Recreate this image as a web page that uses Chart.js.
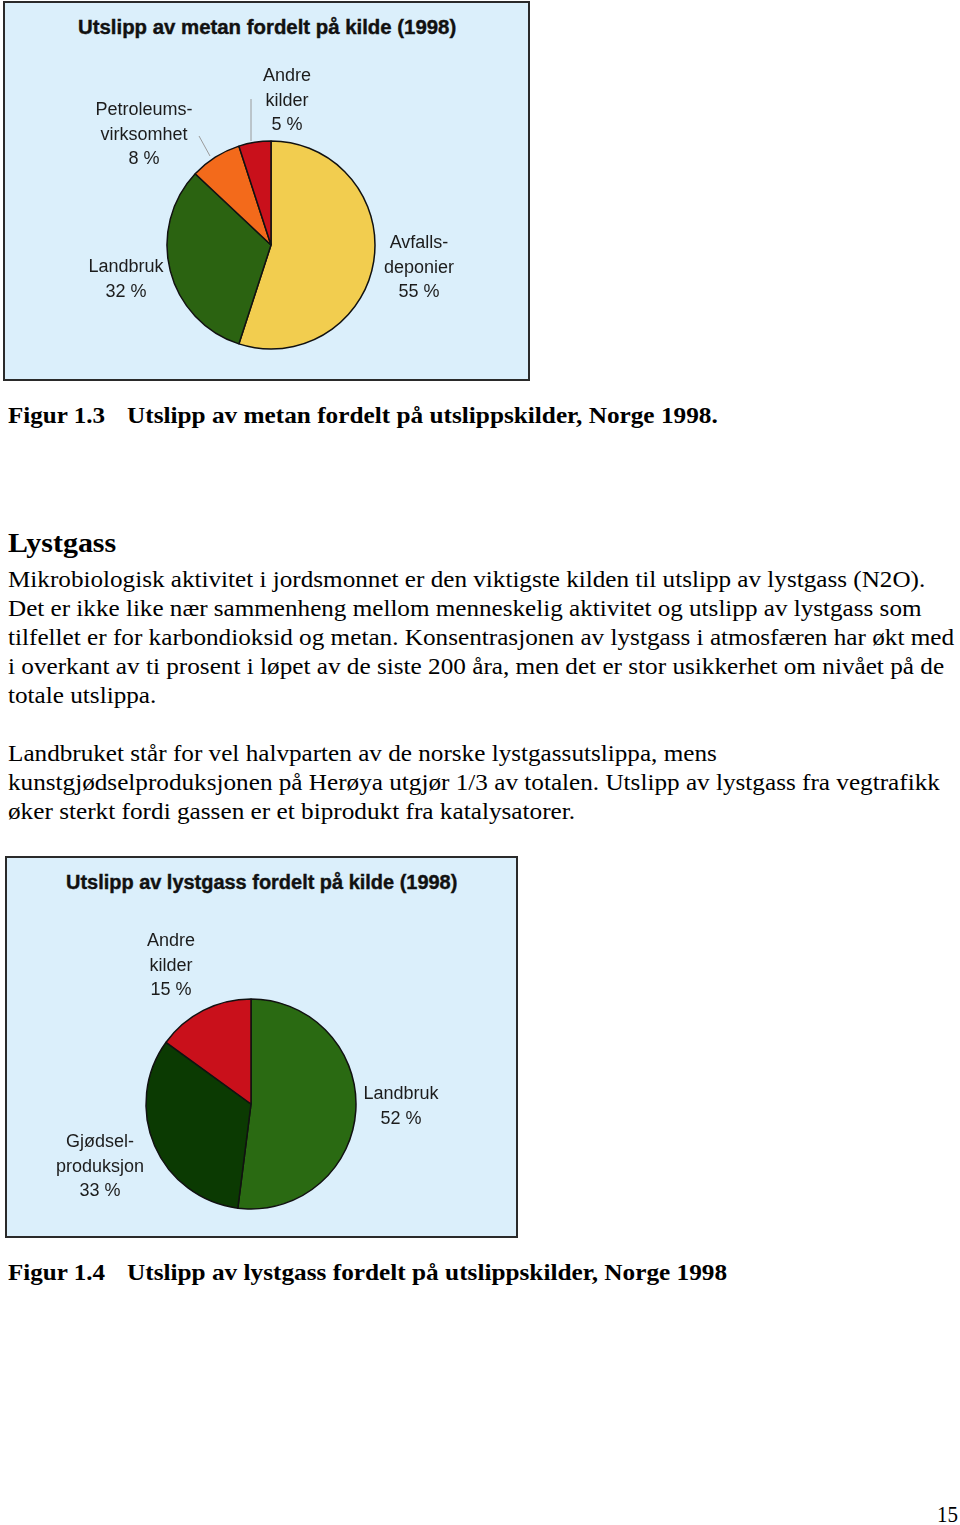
<!DOCTYPE html>
<html>
<head>
<meta charset="utf-8">
<script src="https://cdn.jsdelivr.net/npm/chart.js@4/dist/chart.umd.min.js"></script>
<style>
  body { margin: 0; background: #fff; width: 960px; height: 1525px; position: relative; overflow: hidden; }
  .box { position: absolute; background: #dbeffb; border: 2px solid #2a2a2a; box-sizing: border-box; }
  .t { position: absolute; white-space: nowrap; transform-origin: 0 50%; color: #000; }
  .serif { font-family: "Liberation Serif", "Times New Roman", serif; font-size: 24px; line-height: 28px; }
  .bold { font-weight: bold; font-size: 23px; }
  .ctitle { position: absolute; white-space: nowrap; font-family: "Liberation Sans", Arial, sans-serif; font-weight: bold; font-size: 20px; line-height: 24px; color: #111; transform-origin: 0 50%; -webkit-text-stroke: 0.4px #111; }
  .lbl { position: absolute; font-family: "Liberation Sans", Arial, sans-serif; font-size: 18px; line-height: 24.5px; color: #1c1c1c; text-align: center; white-space: nowrap; transform: translateX(-50%); }
  .pie { position: absolute; }
  svg.lead { position: absolute; left: 0; top: 0; overflow: visible; }
</style>
</head>
<body>

<div class="box" style="left:3px; top:1px; width:527px; height:380px;"></div>
<div class="ctitle" id="title1" data-w="378" style="left:78px; top:15px;">Utslipp av metan fordelt på kilde (1998)</div>
<div class="pie" style="left:156px; top:130px; width:230px; height:230px;"><canvas id="metanChart"></canvas></div>
<div id="labels1"></div>
<svg class="lead" width="960" height="400">
  <line x1="199" y1="136" x2="210" y2="156" stroke="#9a9a9a" stroke-width="1"/>
  <line x1="251" y1="99" x2="251" y2="141" stroke="#9a9a9a" stroke-width="1"/>
</svg>

<div class="t serif bold" data-w="97" style="left:8px; top:402px;">Figur 1.3</div>
<div class="t serif bold" data-w="591" style="left:127px; top:402px;">Utslipp av metan fordelt på utslippskilder, Norge 1998.</div>

<div class="t serif bold" data-w="108" style="left:8px; top:526px; font-size:28px; line-height:34px;">Lystgass</div>
<div class="t serif" data-w="917" style="left:8px; top:565px;">Mikrobiologisk aktivitet i jordsmonnet er den viktigste kilden til utslipp av lystgass (N2O).</div>
<div class="t serif" data-w="914" style="left:8px; top:594px;">Det er ikke like nær sammenheng mellom menneskelig aktivitet og utslipp av lystgass som</div>
<div class="t serif" data-w="946" style="left:8px; top:623px;">tilfellet er for karbondioksid og metan. Konsentrasjonen av lystgass i atmosfæren har økt med</div>
<div class="t serif" data-w="936" style="left:8px; top:652px;">i overkant av ti prosent i løpet av de siste 200 åra, men det er stor usikkerhet om nivået på de</div>
<div class="t serif" data-w="148" style="left:8px; top:681px;">totale utslippa.</div>

<div class="t serif" data-w="709" style="left:8px; top:739px;">Landbruket står for vel halvparten av de norske lystgassutslippa, mens</div>
<div class="t serif" data-w="932" style="left:8px; top:768px;">kunstgjødselproduksjonen på Herøya utgjør 1/3 av totalen. Utslipp av lystgass fra vegtrafikk</div>
<div class="t serif" data-w="567" style="left:8px; top:797px;">øker sterkt fordi gassen er et biprodukt fra katalysatorer.</div>

<div class="box" style="left:5px; top:856px; width:513px; height:382px;"></div>
<div class="ctitle" id="title2" data-w="391" style="left:66px; top:870px;">Utslipp av lystgass fordelt på kilde (1998)</div>
<div class="pie" style="left:136px; top:989px; width:230px; height:230px;"><canvas id="lystgassChart"></canvas></div>
<div id="labels2"></div>

<div class="t serif bold" data-w="97" style="left:8px; top:1259px;">Figur 1.4</div>
<div class="t serif bold" data-w="600" style="left:127px; top:1259px;">Utslipp av lystgass fordelt på utslippskilder, Norge 1998</div>

<div class="t serif" data-w="21" style="left:937px; top:1500px;">15</div>

<script>
// Metan (1998), share of emissions by source, percent
const metanLabels = ['Avfallsdeponier', 'Landbruk', 'Petroleumsvirksomhet', 'Andre kilder'];
const metanValues = [55, 32, 8, 5];
const metanColors = ['#f2cd4f', '#2b6311', '#f36a1b', '#c9101b'];
const metanLabelLines = [['Avfalls-', 'deponier'], ['Landbruk'], ['Petroleums-', 'virksomhet'], ['Andre', 'kilder']];

// Lystgass (1998), share of emissions by source, percent
const lystgassLabels = ['Landbruk', 'Gjødselproduksjon', 'Andre kilder'];
const lystgassValues = [52, 33, 15];
const lystgassColors = ['#2a6a12', '#0b3a02', '#c9101b'];
const lystgassLabelLines = [['Landbruk'], ['Gjødsel-', 'produksjon'], ['Andre', 'kilder']];

function makePie(id, labels, values, colors, radius) {
    const ctx = document.getElementById(id).getContext('2d');
    return new Chart(ctx, {
        type: 'pie',
        data: {
            labels: labels,
            datasets: [{
                data: values,
                backgroundColor: colors,
                borderColor: '#111',
                borderWidth: 1.5
            }]
        },
        options: {
            responsive: true,
            maintainAspectRatio: true,
            aspectRatio: 1,
            animation: false,
            radius: radius,
            events: [],
            plugins: {
                legend: { display: false },
                tooltip: { enabled: false }
            }
        }
    });
}

// label text = name lines + value, placed beside each slice
function renderLabels(containerId, lines, values, centers) {
    const container = document.getElementById(containerId);
    container.innerHTML = lines.map((l, i) => `
        <div class="lbl" style="left:${centers[i][0]}px; top:${centers[i][1]}px;">
            ${l.concat([values[i] + ' %']).join('<br>')}
        </div>
    `).join('');
}

// squeeze text lines to the widths they have in the scanned page
function fitWidths() {
    document.querySelectorAll('[data-w]').forEach(el => {
        const natural = el.scrollWidth;
        const target = parseFloat(el.dataset.w);
        el.style.transform = `scaleX(${target / natural})`;
    });
}

makePie('metanChart', metanLabels, metanValues, metanColors, 104);
makePie('lystgassChart', lystgassLabels, lystgassValues, lystgassColors, 105);

renderLabels('labels1', metanLabelLines, metanValues, [[419, 230], [126, 254], [144, 97], [287, 63]]);
renderLabels('labels2', lystgassLabelLines, lystgassValues, [[401, 1081], [100, 1129], [171, 928]]);

fitWidths();
</script>
</body>
</html>
